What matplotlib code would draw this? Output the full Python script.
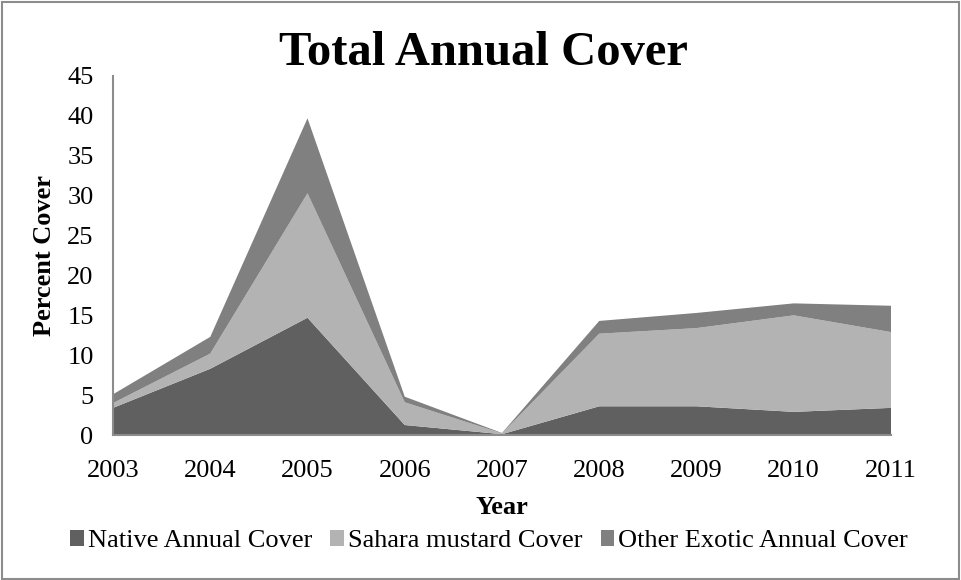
import matplotlib
matplotlib.use("Agg")
import matplotlib.pyplot as plt
from matplotlib.patches import Rectangle, Patch

plt.rcParams['font.family'] = ['Liberation Serif', 'DejaVu Serif']

# percent cover per year, one layer each
years = [2003, 2004, 2005, 2006, 2007, 2008, 2009, 2010, 2011]
native = [3.4, 8.3, 14.7, 1.25, 0.1, 3.6, 3.6, 2.9, 3.4]
sahara = [0.6, 1.9, 15.6, 2.85, 0.1, 9.1, 9.8, 12.1, 9.5]
other = [1.1, 2.1, 9.4, 0.7, 0.05, 1.6, 1.9, 1.5, 3.3]

labels = ['Native Annual Cover', 'Sahara mustard Cover', 'Other Exotic Annual Cover']
colors = ['#606060', '#b3b3b3', '#808080']

fig = plt.figure(figsize=(9.61, 5.80), dpi=100)
ax = fig.add_axes([113 / 961, 1 - 435 / 580, (891 - 113) / 961, (435 - 76) / 580])

ax.stackplot(years, native, sahara, other, colors=colors, linewidth=0)

ax.set_xlim(2003, 2011)
ax.set_ylim(0, 45)
ax.set_yticks(range(0, 46, 5))
ax.set_xticks(years)
ax.tick_params(length=0, labelsize=19, colors='black')
ax.tick_params(axis='y', pad=14)
ax.tick_params(axis='x', pad=18)

for side in ['top', 'right']:
    ax.spines[side].set_visible(False)
for side in ['left', 'bottom']:
    ax.spines[side].set_color('#8c8c8c')
    ax.spines[side].set_linewidth(1.5)

ax.set_xlabel('Year', fontsize=19, fontweight='bold', labelpad=10)
ax.set_ylabel('Percent Cover', fontsize=19, fontweight='bold', labelpad=8)

fig.text(483 / 961, 1 - 65 / 580, 'Total Annual Cover', fontsize=35,
         fontweight='bold', ha='center', va='baseline')

handles = [Patch(facecolor=c, edgecolor='none') for c in colors]
fig.legend(handles, labels, loc='center', bbox_to_anchor=(489 / 961, 1 - 541 / 580),
           ncol=3, frameon=False, fontsize=19, handlelength=0.5, handleheight=0.55,
           handletextpad=0.15, columnspacing=0.7, borderpad=0)

# thin gray frame around the whole figure
fig.patches.append(Rectangle((0.002, 0.002), 0.996, 0.994, transform=fig.transFigure,
                             fill=False, edgecolor='#8c8c8c', linewidth=1.5))

fig.savefig('out.png', dpi=100)
